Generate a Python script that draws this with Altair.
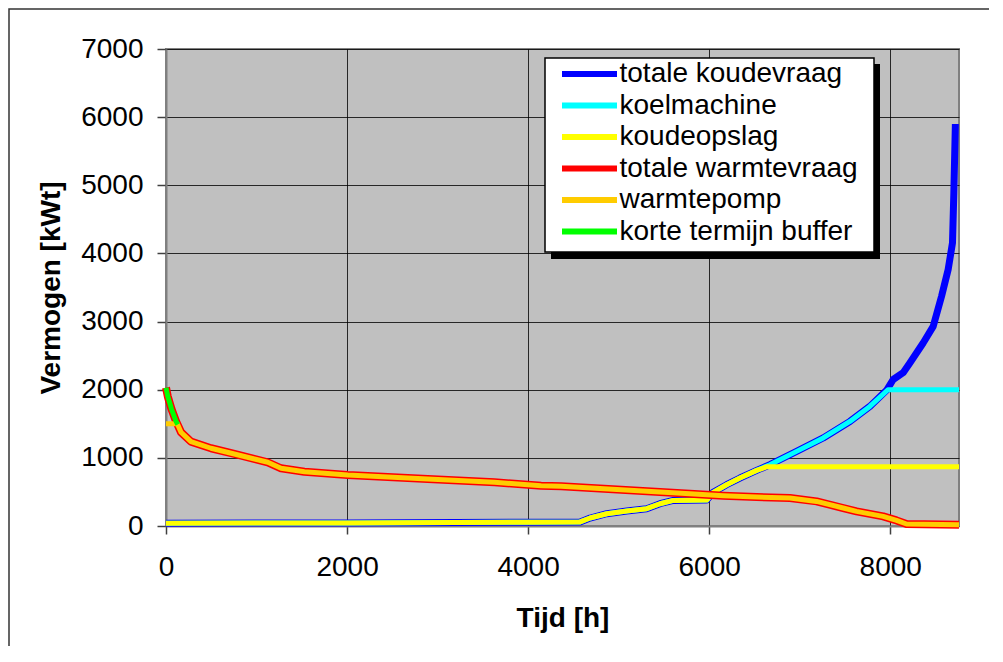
import altair as alt
import pandas as pd

# ---- data ----
series_names = ["totale koudevraag", "koelmachine", "koudeopslag",
                "totale warmtevraag", "warmtepomp", "korte termijn buffer"]
series_colors = ["#0000FF", "#00FFFF", "#FFFF00", "#FF0000", "#FFCC00", "#00FF00"]
series_widths = [7, 5, 5, 8, 5, 5]

koude_x = [0, 2000, 4000, 4575, 4685, 4869, 5090, 5310, 5457, 5604, 5973, 6045, 6193,
           6340, 6525, 6671, 6966, 7260, 7555, 7775, 7960, 8033, 8143, 8217, 8364,
           8475, 8567, 8640, 8688, 8703, 8720]
koude_y = [40, 45, 55, 60, 117, 180, 220, 254, 327, 376, 380, 494, 606,
           704, 816, 900, 1095, 1292, 1535, 1755, 1991, 2150, 2250, 2392, 2686,
           2930, 3370, 3762, 4154, 4888, 5900]

koel_x = [0, 2000, 4000, 4575, 4685, 4869, 5090, 5310, 5457, 5604, 5973, 6045, 6193,
          6340, 6525, 6671, 6966, 7260, 7555, 7775, 7975, 8760]
koel_y = [40, 45, 55, 60, 117, 180, 220, 254, 327, 376, 380, 494, 606,
          704, 816, 900, 1095, 1292, 1535, 1755, 2000, 2000]

opslag_x = [0, 2000, 4000, 4575, 4685, 4869, 5090, 5310, 5457, 5604, 5973, 6045, 6193,
            6340, 6525, 6640, 8760]
opslag_y = [40, 45, 55, 60, 117, 180, 220, 254, 327, 376, 380, 494, 606,
            704, 816, 870, 870]

warm_x = [0, 20, 60, 110, 166, 276, 497, 755, 1124, 1271, 1529, 2008, 2892, 3628,
          4144, 4365, 5788, 6156, 6525, 6892, 7187, 7481, 7628, 7922, 8070, 8180, 8760]
warm_y = [2030, 1900, 1720, 1540, 1376, 1238, 1141, 1057, 935, 847, 797, 749, 690, 641,
          592, 583, 474, 445, 425, 411, 361, 264, 214, 141, 82, 29, 19]

wp_x = [0, 125, 166, 276, 497, 755, 1124, 1271, 1529, 2008, 2892, 3628,
        4144, 4365, 5788, 6156, 6525, 6892, 7187, 7481, 7628, 7922, 8070, 8180, 8760]
wp_y = [1500, 1500, 1376, 1238, 1141, 1057, 935, 847, 797, 749, 690, 641,
        592, 583, 474, 445, 425, 411, 361, 264, 214, 141, 82, 29, 19]

buffer_x = [0, 20, 60, 110, 130]
buffer_y = [2030, 1900, 1720, 1540, 1490]

x_ticks = [0, 2000, 4000, 6000, 8000]
y_ticks = [0, 1000, 2000, 3000, 4000, 5000, 6000, 7000]

all_xy = [(koude_x, koude_y), (koel_x, koel_y), (opslag_x, opslag_y),
          (warm_x, warm_y), (wp_x, wp_y), (buffer_x, buffer_y)]

color_scale = alt.Scale(domain=series_names, range=series_colors)

layers = []
for name, (xs, ys), w in zip(series_names, all_xy, series_widths):
    df = pd.DataFrame({"x": xs, "y": ys, "series": name})
    layers.append(
        alt.Chart(df).mark_line(strokeWidth=w, strokeJoin="round", strokeCap="butt").encode(
            x=alt.X("x:Q", scale=alt.Scale(domain=[0, 8760], nice=False, zero=False),
                    axis=alt.Axis(values=x_ticks, title="Tijd [h]", format="d")),
            y=alt.Y("y:Q", scale=alt.Scale(domain=[0, 7000], nice=False),
                    axis=alt.Axis(values=y_ticks, title="Vermogen [kWt]", format="d")),
            color=alt.Color("series:N", scale=color_scale,
                            legend=alt.Legend(title=None)),
            order=alt.Order("x:Q"),
        )
    )

# decoration: frame of the whole picture, legend shadow and legend box
deco = pd.DataFrame({"d": [0]})
frame = alt.Chart(deco).mark_rect(fill="transparent", stroke="#333333", strokeWidth=1.5).encode(
    x=alt.value(-157), x2=alt.value(900), y=alt.value(-40), y2=alt.value(700))
shadow = alt.Chart(deco).mark_rect(fill="black").encode(
    x=alt.value(385), x2=alt.value(714), y=alt.value(15), y2=alt.value(210))
box = alt.Chart(deco).mark_rect(fill="white", stroke="black", strokeWidth=1.5).encode(
    x=alt.value(379), x2=alt.value(708), y=alt.value(9), y2=alt.value(203))

chart = alt.layer(*layers, shadow, box, frame).properties(
    width=793, height=477,
    autosize=alt.AutoSizeParams(type="none"),
    padding={"left": 158, "top": 41, "right": 30, "bottom": 120},
    background="white",
).configure_view(
    stroke="#808080", strokeWidth=2, fill="#C0C0C0"
).configure_axis(
    labelFont="Liberation Sans", labelFontSize=28, labelColor="black",
    titleFont="Liberation Sans", titleFontSize=28, titleFontWeight="bold", titleColor="black",
    gridColor="#000000", gridWidth=1, gridOpacity=0.8,
    domainColor="#808080", domainWidth=2,
    tickColor="#404040", tickWidth=1.5,
).configure_axisX(
    tickSize=8, labelPadding=19, titlePadding=23, labelFlush=False,
).configure_axisY(
    tickSize=9, labelPadding=14, titlePadding=15,
).configure_legend(
    orient="none", legendX=384, legendY=11,
    padding=0, rowPadding=3.5, labelLimit=500,
    labelFont="Liberation Sans", labelFontSize=28, labelColor="black",
    symbolType="M-2.75,0H2.75", symbolSize=400, symbolStrokeWidth=6,
    symbolOffset=25.5, labelOffset=16,
)

chart.save("out.html", embed_options={"renderer": "svg", "actions": False})
